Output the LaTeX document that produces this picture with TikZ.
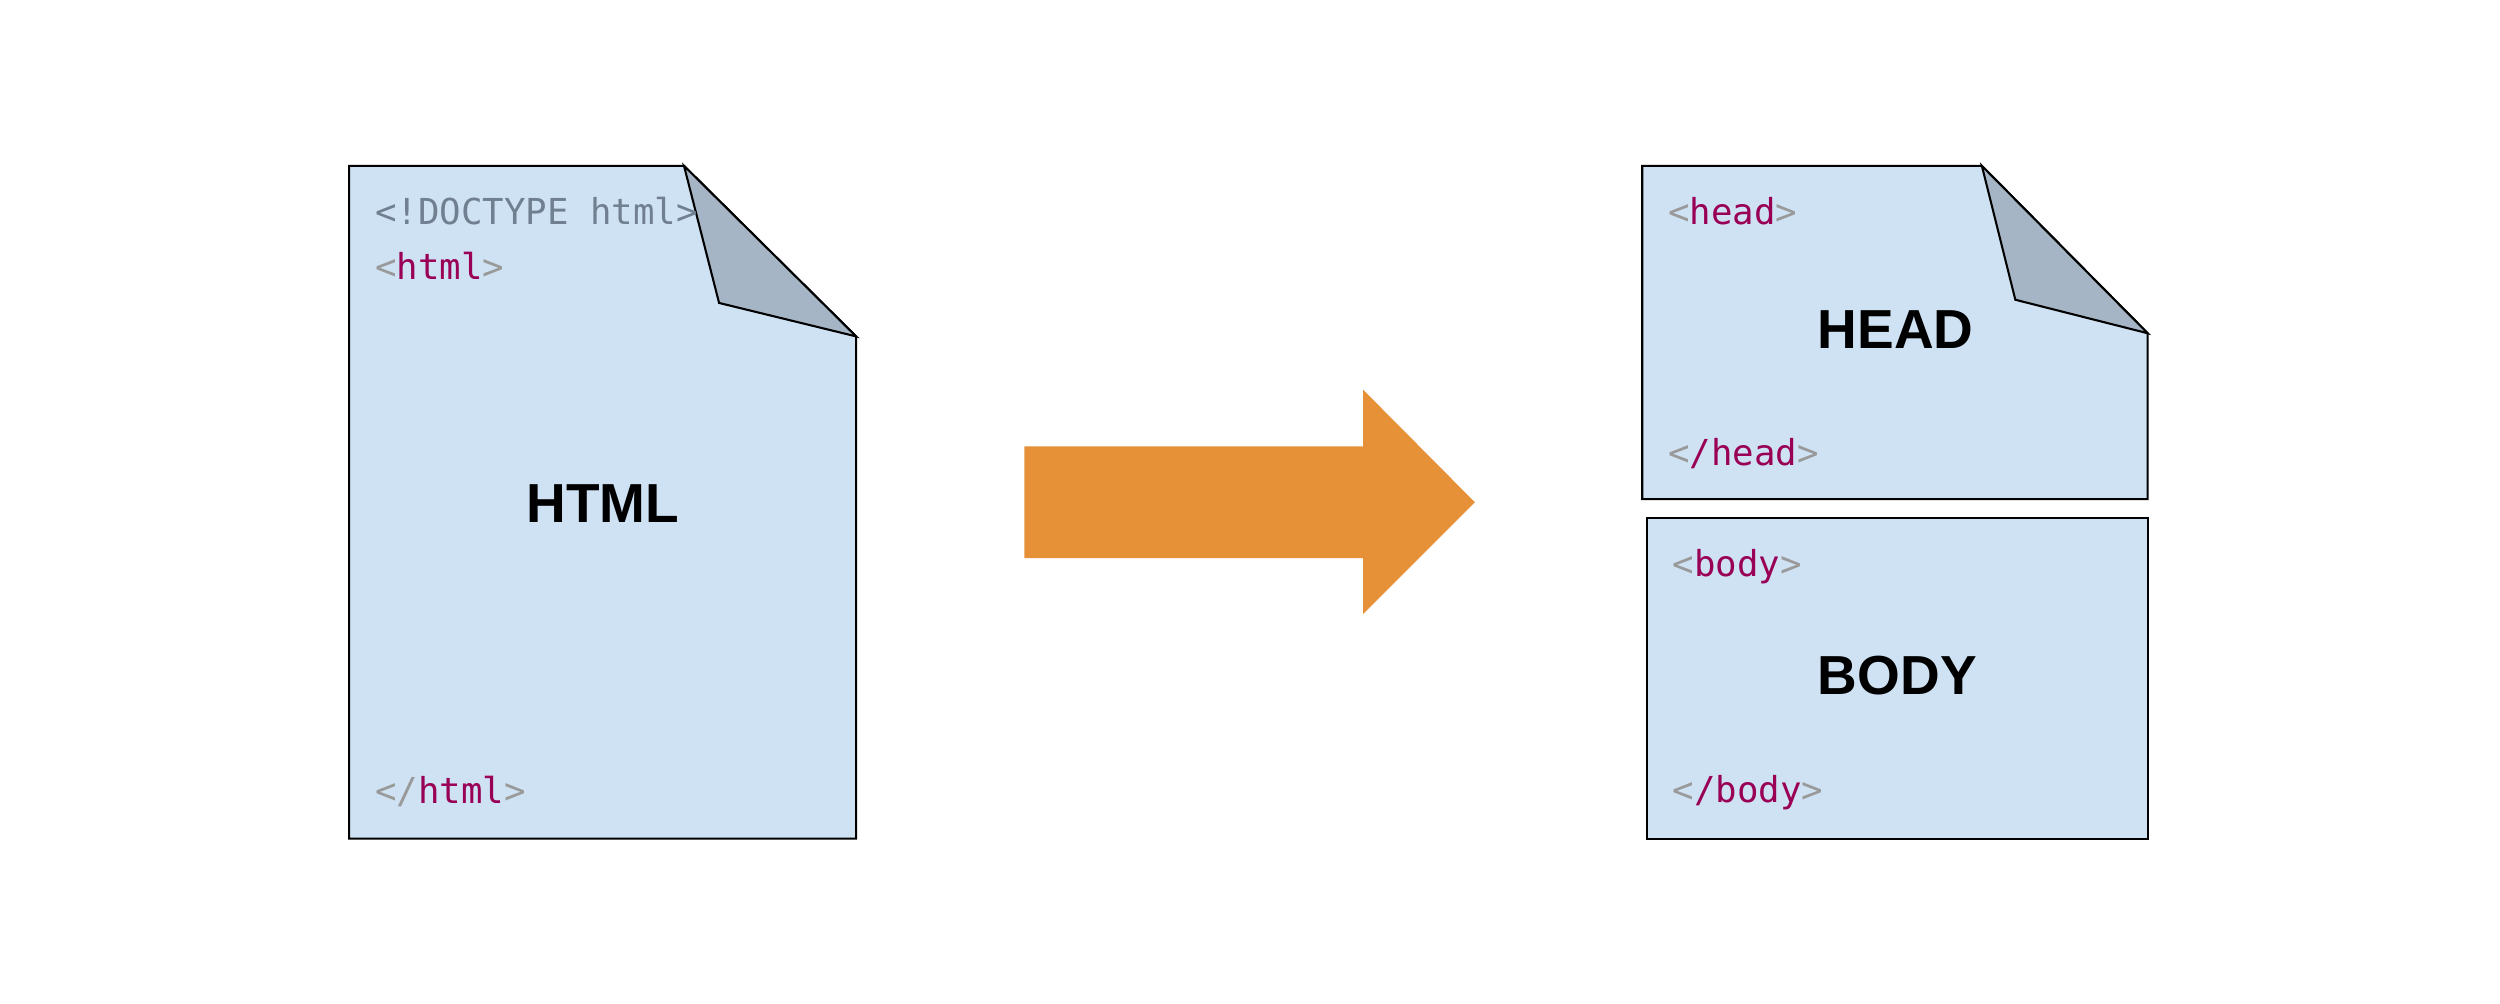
\documentclass[tikz,border=0pt]{standalone}
\usepackage{fontspec}
\newfontfamily\codefont{DejaVu Sans Mono}
\newfontfamily\labelfont{Liberation Sans}
\definecolor{docfill}{HTML}{CFE2F3}
\definecolor{foldfill}{HTML}{A5B5C5}
\definecolor{tagcol}{HTML}{990055}
\definecolor{punctcol}{HTML}{999999}
\definecolor{doctypecol}{HTML}{708090}
\definecolor{arrowcol}{HTML}{E69138}
\tikzset{
  docline/.style={draw=black, line width=1.3pt, line join=miter},
  codetext/.style={inner sep=0pt, anchor=base west, font=\codefont\fontsize{22.4}{26}\selectfont},
  biglabel/.style={inner sep=0pt, font=\labelfont\bfseries\fontsize{34.5}{40}\selectfont},
}
\newcommand{\pc}[1]{\textcolor{punctcol}{#1}}
\newcommand{\tc}[1]{\textcolor{tagcol}{#1}}
\begin{document}
\begin{tikzpicture}[x=1pt,y=-1pt]
\useasboundingbox[fill=white] (0,0) rectangle (1568,629.7);
% left document
\draw[docline, fill=docfill] (219,104) -- (429,104) -- (537,211) -- (537,526) -- (219,526) -- cycle;
\draw[docline, fill=foldfill] (429,104) -- (451,190) -- (537,211) -- cycle;
\node[codetext] (doctype) at (235,140.5) {\textcolor{doctypecol}{<!DOCTYPE html>}};
\node[codetext] (htmlopen) at (235,175) {\pc{<}\tc{html}\pc{>}};
\node[codetext] (htmlclose) at (235,504) {\pc{</}\tc{html}\pc{>}};
\node[biglabel] (htmllabel) at (378,316) {HTML};
% arrow
\fill[arrowcol] (642.5,280) -- (855,280) -- (855,244.5) -- (925,315) -- (855,385) -- (855,350) -- (642.5,350) -- cycle;
% head document
\draw[docline, fill=docfill] (1030,104) -- (1243,104) -- (1347,209) -- (1347,313) -- (1030,313) -- cycle;
\draw[docline, fill=foldfill] (1243,104) -- (1264,188) -- (1347,209) -- cycle;
\node[codetext] (headopen) at (1046,140.5) {\pc{<}\tc{head}\pc{>}};
\node[codetext] (headclose) at (1046,292) {\pc{<}\tc{/head}\pc{>}};
\node[biglabel] (headlabel) at (1189,207) {HEAD};
% body box
\draw[docline, fill=docfill] (1033,325) rectangle (1347,526);
\node[codetext] (bodyopen) at (1049,361.5) {\pc{<}\tc{body}\pc{>}};
\node[codetext] (bodyclose) at (1049,503.5) {\pc{<}\tc{/body}\pc{>}};
\node[biglabel] (bodylabel) at (1190,424) {BODY};
\end{tikzpicture}
\end{document}
